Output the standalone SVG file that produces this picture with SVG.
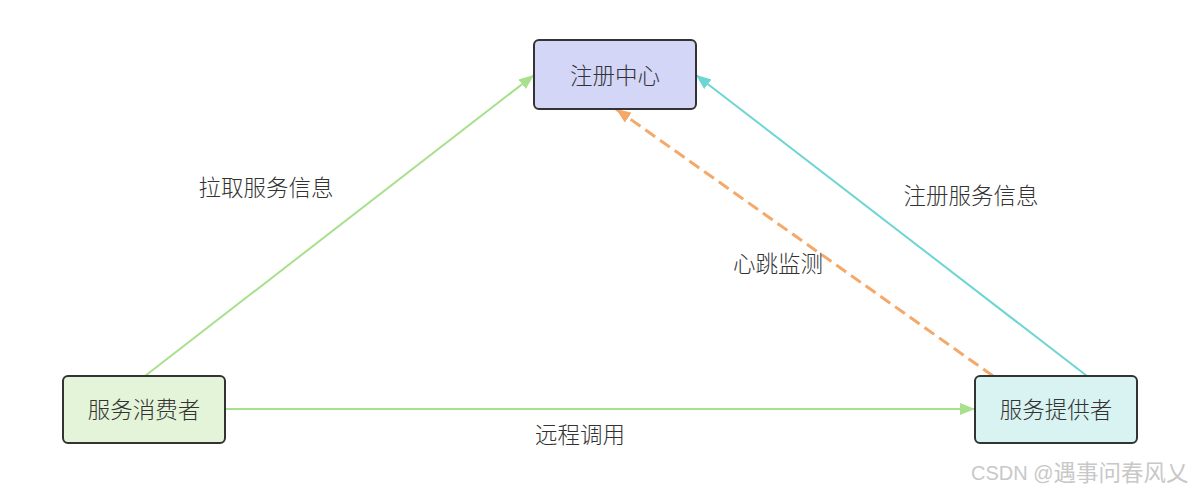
<svg xmlns="http://www.w3.org/2000/svg" width="1194" height="493" viewBox="0 0 1194 493">
<style>
.node rect{stroke:#333;stroke-width:2}
.lbl{font-family:"Noto Sans CJK SC","Noto Sans",sans-serif;font-size:22.5px;font-weight:300;fill:#333;text-anchor:middle;dominant-baseline:central}
.e{fill:none}
</style>
<defs>
<marker id="aG" markerUnits="userSpaceOnUse" markerWidth="16" markerHeight="12" refX="15" refY="6" orient="auto"><path d="M0,0 L15,6 L0,12 z" fill="#a8e08c"/></marker>
<marker id="aC" markerUnits="userSpaceOnUse" markerWidth="16" markerHeight="12" refX="15" refY="6" orient="auto"><path d="M0,0 L15,6 L0,12 z" fill="#6dd5d3"/></marker>
<marker id="aO" markerUnits="userSpaceOnUse" markerWidth="16" markerHeight="12" refX="15" refY="6" orient="auto"><path d="M0,0 L15,6 L0,12 z" fill="#f4a96a"/></marker>
</defs>
<rect width="1194" height="493" fill="#fff"/>
<g id="connectors">
<line class="e" x1="145" y1="376" x2="534" y2="75" stroke="#a8e08c" stroke-width="2" marker-end="url(#aG)"/>
<line class="e" x1="225" y1="409" x2="975" y2="409" stroke="#a8e08c" stroke-width="2" marker-end="url(#aG)"/>
<line class="e" x1="1087" y1="376" x2="696" y2="75" stroke="#6dd5d3" stroke-width="2" marker-end="url(#aC)"/>
<line class="e" x1="993" y1="376" x2="616" y2="109" stroke="#f4a96a" stroke-width="3" stroke-dasharray="12 6" marker-end="url(#aO)"/>
<text class="lbl" x="266" y="186">拉取服务信息</text>
<text class="lbl" x="971" y="194">注册服务信息</text>
<text class="lbl" x="778" y="262">心跳监测</text>
<text class="lbl" x="580" y="433">远程调用</text>
</g>
<g id="registry" class="node">
<rect x="534" y="40" width="162" height="69" rx="5" fill="#d4d6f7"/>
<text class="lbl" x="615" y="74">注册中心</text>
</g>
<g id="consumer" class="node">
<rect x="63" y="376" width="162" height="67" rx="5" fill="#e3f4d8"/>
<text class="lbl" x="144" y="408">服务消费者</text>
</g>
<g id="provider" class="node">
<rect x="975" y="376" width="162" height="67" rx="5" fill="#d8f3f2"/>
<text class="lbl" x="1056" y="408">服务提供者</text>
</g>
<text x="971" y="473" font-family="'Liberation Sans','Noto Sans CJK SC',sans-serif" font-size="20" fill="#c8c8c8" dominant-baseline="central">CSDN @<tspan font-size="22.5">遇事问春风乂</tspan></text>
</svg>
